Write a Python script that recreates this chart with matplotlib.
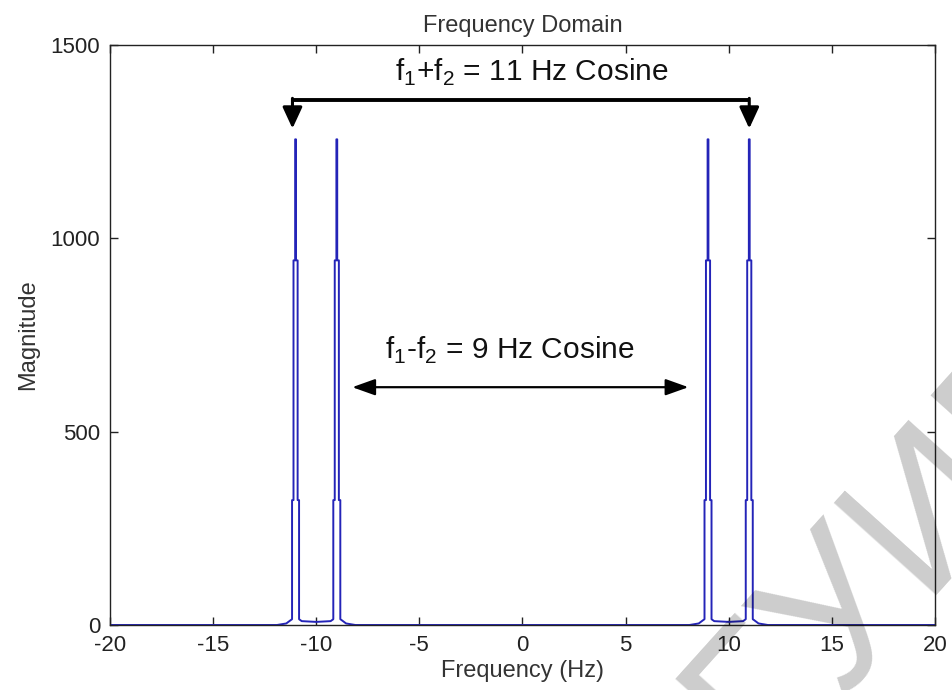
import numpy as np
import matplotlib.pyplot as plt

plt.rcParams['font.family'] = ['Liberation Sans', 'DejaVu Sans']
plt.rcParams['mathtext.fontset'] = 'custom'
plt.rcParams['mathtext.rm'] = 'Liberation Sans'
plt.rcParams['axes.unicode_minus'] = False

# magnitude spectrum of the product of two cosines (peaks at +-9 and +-11 Hz)
freq_neg = [-20, -11.9, -11.45, -11.25, -11.17, -11.17, -11.10, -11.10, -11.02, -11.02,
            -10.98, -10.98, -10.90, -10.90, -10.83, -10.83, -10.70, -10.0, -9.30, -9.17,
            -9.17, -9.10, -9.10, -9.02, -9.02, -8.98, -8.98, -8.90, -8.90, -8.83,
            -8.83, -8.75, -8.55, -8.10]
mag_neg = [0, 0, 4, 12, 15, 323, 323, 943, 943, 1256,
           1256, 943, 943, 323, 323, 15, 10, 8, 10, 15,
           323, 323, 943, 943, 1256, 1256, 943, 943, 323, 323,
           15, 12, 4, 0]
freq_pos = [8.10, 8.55, 8.75, 8.83, 8.83, 8.90, 8.90, 8.98, 8.98, 9.02,
            9.02, 9.10, 9.10, 9.17, 9.17, 9.30, 10.0, 10.70, 10.83, 10.83,
            10.90, 10.90, 10.98, 10.98, 11.02, 11.02, 11.10, 11.10, 11.17, 11.17,
            11.25, 11.45, 11.9, 20]
mag_pos = [0, 4, 12, 15, 323, 323, 943, 943, 1256, 1256,
           943, 943, 323, 323, 15, 10, 8, 10, 15, 323,
           323, 943, 943, 1256, 1256, 943, 943, 323, 323, 15,
           12, 4, 0, 0]

xticks = [-20, -15, -10, -5, 0, 5, 10, 15, 20]
yticks = [0, 500, 1000, 1500]

fig = plt.figure(figsize=(9.52, 6.9), dpi=100)
ax = fig.add_axes([0.1155, 0.0942, 0.8665, 0.8406])

ax.plot(freq_neg + freq_pos, mag_neg + mag_pos, color='#2424b8', lw=1.4)

ax.set_xlim(-20, 20)
ax.set_ylim(0, 1500)
ax.set_xticks(xticks)
ax.set_yticks(yticks)
ax.tick_params(direction='in', top=True, right=True, length=6, width=1,
               labelsize=16, colors='#222222', pad=7)
for s in ax.spines.values():
    s.set_linewidth(1)
    s.set_color('#222222')

ax.set_title('Frequency Domain', fontsize=17, color='#333333', pad=9)
ax.set_xlabel('Frequency (Hz)', fontsize=17, color='#333333', labelpad=3)
ax.set_ylabel('Magnitude', fontsize=17, color='#333333', labelpad=8)

# f1+f2 bracket
ax.plot([-11.15, 11.0], [1358, 1358], color='k', lw=2.8, solid_capstyle='butt')
for xb in [-11.15, 11.0]:
    ax.annotate('', xy=(xb, 1284), xytext=(xb, 1362),
                arrowprops=dict(arrowstyle='-|>,head_length=0.65,head_width=0.3',
                                color='k', lw=2.2, mutation_scale=20,
                                shrinkA=0, shrinkB=0))
ax.text(0.45, 1430, r'$\mathrm{f}_1$+$\mathrm{f}_2$ = 11 Hz Cosine',
        fontsize=21.5, ha='center', va='center', color='#111111')

# f1-f2 arrow
ax.annotate('', xy=(8.05, 615), xytext=(-8.25, 615),
            arrowprops=dict(arrowstyle='<|-|>,head_length=0.7,head_width=0.25',
                            color='k', lw=1.6, mutation_scale=20,
                            shrinkA=0, shrinkB=0))
ax.text(-0.6, 711, r'$\mathrm{f}_1$-$\mathrm{f}_2$ = 9 Hz Cosine',
        fontsize=21.5, ha='center', va='center', color='#111111')

# watermark
fig.text(0.895, 0.14, 'БГУИР', rotation=48, fontsize=145,
         color=(0, 0, 0, 0.2), ha='center', va='center', zorder=10)

fig.savefig('out.png', dpi=100)
